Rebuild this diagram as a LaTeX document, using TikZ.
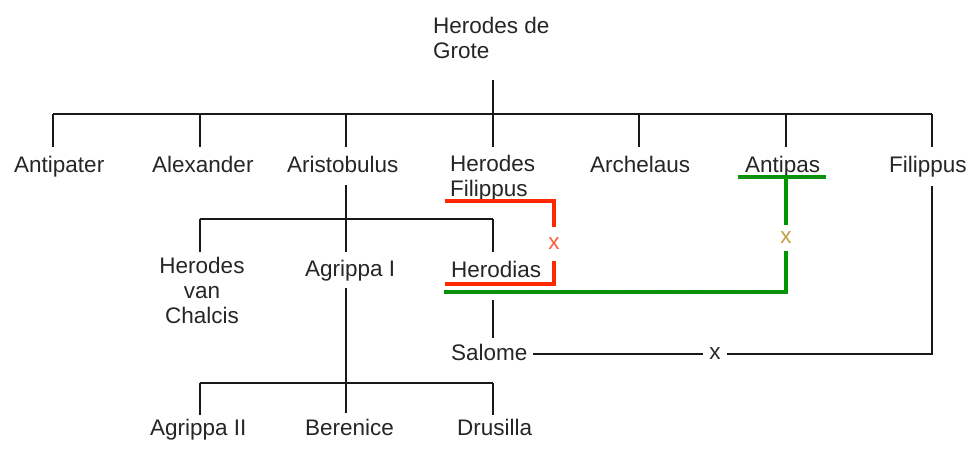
\documentclass[tikz,border=0pt]{standalone}
\usepackage{fontspec}
\setmainfont{Liberation Sans}
\definecolor{myred}{RGB}{255,40,0}
\definecolor{myredx}{RGB}{255,90,60}
\definecolor{mygreen}{RGB}{0,150,0}
\definecolor{olivex}{RGB}{190,160,70}
\begin{document}
\begin{tikzpicture}[x=1pt,y=-1pt,
  lbl/.style={inner sep=0pt, font=\fontsize{22.5}{25}\selectfont, text=black!85},
  tree/.style={line width=1.5pt, draw=black!90},
  redl/.style={line width=3.2pt, draw=myred},
  greenl/.style={line width=3.2pt, draw=mygreen},
  dots/.style={line width=0.9pt, draw=black!60, dotted}]
\useasboundingbox (0,0) rectangle (977,450);
\fill[white] (0,0) rectangle (977,450);

% labels
\node[lbl,anchor=north west,align=left] (hg) at (433,16.5) {Herodes de\\Grote};
\node[lbl,anchor=base west] (antipater) at (14,172) {Antipater};
\node[lbl,anchor=base west] (alexander) at (152,172) {Alexander};
\node[lbl,anchor=base west] (aristobulus) at (287,172) {Aristobulus};
\node[lbl,anchor=north west,align=left] (hf) at (450,155) {Herodes\\Filippus};
\node[lbl,anchor=base west] (archelaus) at (590,172) {Archelaus};
\node[lbl,anchor=base west] (antipas) at (745,172) {Antipas};
\node[lbl,anchor=base west] (filippus) at (889,172) {Filippus};
\node[lbl,anchor=north,align=center] (hvc) at (202,257) {Herodes\\van\\Chalcis};
\node[lbl,anchor=base west] (agrippa) at (305,276) {Agrippa I};
\node[lbl,anchor=base west] (herodias) at (451,277) {Herodias};
\node[lbl,anchor=base west] (salome) at (451,360) {Salome};
\node[lbl,anchor=base west] (agrippa2) at (150,435) {Agrippa II};
\node[lbl,anchor=base west] (berenice) at (305,435) {Berenice};
\node[lbl,anchor=base west] (drusilla) at (457,435) {Drusilla};

% x marks
\node[lbl,text=myredx,inner ysep=11pt] (xr) at (554,244) {x};
\node[lbl,text=olivex,inner ysep=6.5pt] (xg) at (786,238) {x};
\node[lbl,inner xsep=6.4pt] (xs) at (715,354) {x};

% coordinates of the tree
\coordinate (hgdrop) at (493,80);
\coordinate (bar) at (493,114);
\coordinate (barL) at (53,114);
\coordinate (barR) at (932,114);
\coordinate (arDrop) at (346,185);
\coordinate (arBar) at (346,219);
\coordinate (arL) at (200,219);
\coordinate (arR) at (493,219);
\coordinate (agDrop) at (346,288);
\coordinate (agBar) at (346,383);
\coordinate (agL) at (200,383);
\coordinate (agR) at (493,383);
\coordinate (heDrop) at (493,300);
\coordinate (heEnd) at (493,338);

% main tree
\draw[tree] (hgdrop) -- (bar);
\draw[tree] (barL) -- (barR);
\foreach \xx in {53,200,346,493,639,786,932}
  \draw[tree] (\xx,114) -- (\xx,147);

% Aristobulus children
\draw[tree] (arDrop) -- (346,252);
\draw[tree] (arL) -- (arR);
\draw[tree] (arL) -- (200,252);
\draw[tree] (arR) -- (493,252);

% Agrippa I children
\draw[tree] (agDrop) -- (346,413);
\draw[tree] (agL) -- (agR);
\draw[tree] (agL) -- (200,415);
\draw[tree] (agR) -- (493,415);

% Herodias -> Salome
\draw[tree] (heDrop) -- (heEnd);

% Salome x Filippus
\draw[tree,shorten <=5pt] (salome.east |- xs) -- (xs);
\draw[tree] (xs) -- (932,354) -- (932,186);

% red marriage: Herodes Filippus x Herodias
\draw[redl] (445,201) -| (xr);
\draw[redl] (xr) |- (445,284);

% green marriage: Antipas x Herodias
\draw[greenl] (738,177) -- (826,177);
\draw[dots] (738,177) -- (826,177);
\draw[greenl] (786,177) -- (xg);
\draw[greenl] (xg) |- (444,292);
\draw[dots] (786,292) -- (444,292);
\end{tikzpicture}
\end{document}
